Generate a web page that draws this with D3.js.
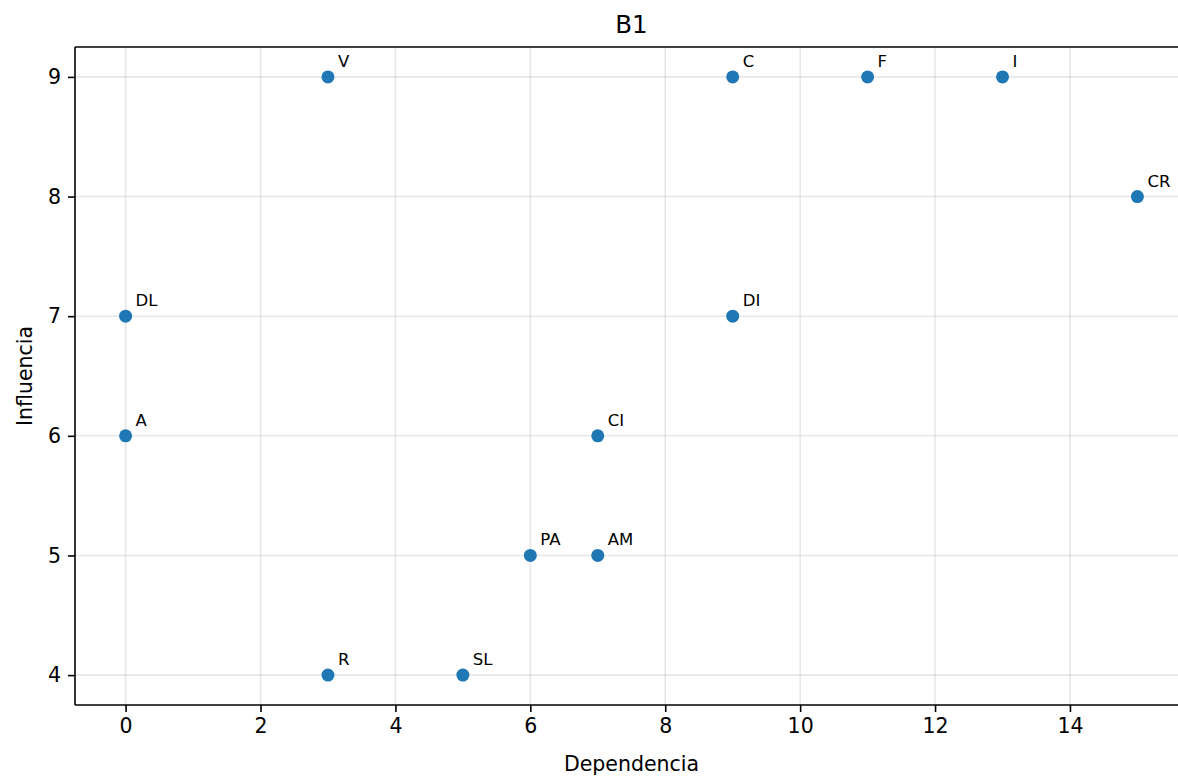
<!DOCTYPE html>
<html>
<head>
<meta charset="utf-8">
<script src="https://cdn.jsdelivr.net/npm/d3@7"></script>
<style>
html,body{margin:0;padding:0;background:#fff;overflow:hidden;}
svg{display:block;font-family:"DejaVu Sans",sans-serif;}
</style>
</head>
<body>
<svg id="chart" width="1178" height="782"></svg>
<script>
const labels = ["V","C","F","I","CR","DL","DI","A","CI","PA","AM","R","SL"];
const dependencia = [3,9,11,13,15,0,9,0,7,6,7,3,5];
const influencia = [9,9,9,9,8,7,7,6,6,5,5,4,4];
const xTicks = [0,2,4,6,8,10,12,14];
const yTicks = [4,5,6,7,8,9];
const title = "B1";
const xLabel = "Dependencia";
const yLabel = "Influencia";

const svg = d3.select("#chart");
const L = 75, R = 1188, T = 47, B = 705;
const xMin = d3.min(dependencia), xMax = d3.max(dependencia);
const yMin = d3.min(influencia), yMax = d3.max(influencia);
const xm = (xMax - xMin) * 0.05, ym = (yMax - yMin) * 0.05;
const x = d3.scaleLinear().domain([xMin - xm, xMax + xm]).range([L, R]);
const y = d3.scaleLinear().domain([yMin - ym, yMax + ym]).range([B, T]);

// grid
const grid = svg.append("g");
grid.selectAll("line.gx").data(xTicks).join("line")
  .attr("x1", d => x(d)).attr("x2", d => x(d)).attr("y1", T).attr("y2", B)
  .attr("stroke", "#b0b0b0").attr("stroke-opacity", 0.3).attr("stroke-width", 1.6);
grid.selectAll("line.gy").data(yTicks).join("line")
  .attr("y1", d => y(d)).attr("y2", d => y(d)).attr("x1", L).attr("x2", R)
  .attr("stroke", "#b0b0b0").attr("stroke-opacity", 0.3).attr("stroke-width", 1.6);

// axes
const xAxis = d3.axisBottom(x).tickValues(xTicks).tickSize(7).tickPadding(6).tickFormat(d3.format("d"));
const yAxis = d3.axisLeft(y).tickValues(yTicks).tickSize(7).tickPadding(7).tickFormat(d3.format("d"));
const gx = svg.append("g").attr("transform", `translate(0,${B})`).call(xAxis);
const gy = svg.append("g").attr("transform", `translate(${L},0)`).call(yAxis);
[gx, gy].forEach(g => {
  g.select(".domain").remove();
  g.selectAll(".tick line").attr("stroke", "#000").attr("stroke-width", 1.6);
  g.selectAll(".tick text").attr("fill", "#000").attr("font-size", 20.5)
    .attr("font-family", "DejaVu Sans, sans-serif");
});

// spines
svg.append("line").attr("x1", L).attr("x2", L).attr("y1", T).attr("y2", B).attr("stroke", "#000").attr("stroke-width", 1.6);
svg.append("line").attr("x1", L).attr("x2", R).attr("y1", B).attr("y2", B).attr("stroke", "#000").attr("stroke-width", 1.6);
svg.append("line").attr("x1", L).attr("x2", R).attr("y1", T).attr("y2", T).attr("stroke", "#000").attr("stroke-width", 1.6);
svg.append("line").attr("x1", R).attr("x2", R).attr("y1", T).attr("y2", B).attr("stroke", "#000").attr("stroke-width", 1.6);

// points
const data = labels.map((l, i) => ({l, x: dependencia[i], y: influencia[i]}));
svg.append("g").selectAll("circle").data(data).join("circle")
  .attr("cx", d => x(d.x)).attr("cy", d => y(d.y)).attr("r", 6.5)
  .attr("fill", "#1f77b4");
svg.append("g").selectAll("text").data(data).join("text")
  .attr("x", d => x(d.x) + 10).attr("y", d => y(d.y) - 10)
  .attr("font-size", 16.5).attr("fill", "#000")
  .text(d => d.l);

// titles
svg.append("text").attr("x", (L + R) / 2).attr("y", 33).attr("text-anchor", "middle")
  .attr("font-size", 24.5).attr("fill", "#000").text(title);
svg.append("text").attr("x", (L + R) / 2).attr("y", 771).attr("text-anchor", "middle")
  .attr("font-size", 20.5).attr("fill", "#000").text(xLabel);
svg.append("text").attr("transform", `translate(32,${(T + B) / 2}) rotate(-90)`)
  .attr("text-anchor", "middle").attr("font-size", 20.5).attr("fill", "#000").text(yLabel);
</script>
</body>
</html>
